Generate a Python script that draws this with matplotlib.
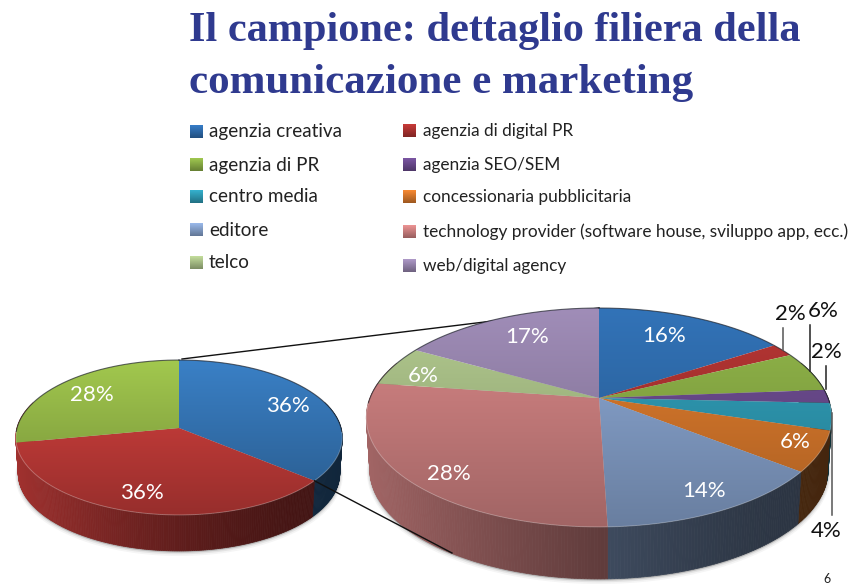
import numpy as np
import matplotlib
matplotlib.use("Agg")
import matplotlib.pyplot as plt
from matplotlib.patches import Polygon

# ---------- data ----------
title_lines = ["Il campione: dettaglio filiera della", "comunicazione e marketing"]
left_values = [36, 36, 28]
left_colors = ["#3A80C6", "#D8423F", "#A2C84E"]
left_labels = ["36%", "36%", "28%"]

categories = ["agenzia creativa", "agenzia di digital PR", "agenzia di PR", "agenzia SEO/SEM",
              "centro media", "concessionaria pubblicitaria", "editore",
              "technology provider (software house, sviluppo app, ecc.)", "telco", "web/digital agency"]
right_values = [16, 2, 6, 2, 4, 6, 14, 28, 6, 17]
right_labels = ["16%", "2%", "6%", "2%", "4%", "6%", "14%", "28%", "6%", "17%"]
right_colors = ["#3273B8", "#B83634", "#93B84A", "#714F96", "#31A3BE", "#E47F2E",
                "#8EABD8", "#DA8888", "#B4CC90", "#A08DB8"]

# ---------- layout (pixels) ----------
W, H = 848, 586
fig = plt.figure(figsize=(W / 100, H / 100), dpi=100, facecolor="white")
ax = fig.add_axes([0, 0, 1, 1])
ax.set_xlim(0, W); ax.set_ylim(H, 0); ax.axis("off")


def rgb(c):
    return np.array(matplotlib.colors.to_rgb(c))


def project(t, g):
    u, v = np.sin(t), np.cos(t)
    d = 1 + g["k"] * v
    return g["cx"] + g["rx"] * u / d, g["cy"] - g["ry"] * v / d


def draw_pie(values, colors, g, z):
    values = np.asarray(values, float)
    edges = np.concatenate([[0], np.cumsum(values) / values.sum()]) * 2 * np.pi
    tt = np.linspace(0, 2 * np.pi, 720)
    xo, yo = project(tt, g)
    top, bot = yo.min(), yo.max()
    left, right = xo.min(), xo.max()
    sc = g["bottom_scale"]
    xb = g["cx"] + (xo - g["cx"]) * sc
    yb = yo + g["depth"]
    # soft shadow round the side wall
    for grow, a in ((3.0, .06), (2.0, .10), (1.0, .16)):
        ax.add_patch(Polygon(np.c_[xb, yb + grow * .7], closed=True, fc="#555555", ec="#555555",
                             lw=grow * 1.4, alpha=a, zorder=z))
    # side wall, as thin shaded strips
    for i, col in enumerate(colors):
        a, b = edges[i], edges[i + 1]
        n = max(2, int((b - a) / 0.012))
        ts = np.linspace(a, b, n + 1)
        # a slice that starts just behind the left silhouette shows no wall of its own
        behind = i > 0 and a > np.pi and np.cos(a) > -0.3
        for t0, t1 in zip(ts[:-1], ts[1:]):
            tm = (t0 + t1) / 2
            if np.cos(tm) > 0.35:
                continue
            x0, y0 = project(t0, g); x1, y1 = project(t1, g)
            xm = (x0 + x1) / 2
            s = np.clip((xm - left) / (right - left), 0, 1)
            f = .30 + .44 * (1 - s) ** 1.6
            wall = colors[i - 1] if behind else col
            c = rgb(wall) * f
            quad = [(x0, y0), (x1, y1),
                    (g["cx"] + (x1 - g["cx"]) * sc, y1 + g["depth"]),
                    (g["cx"] + (x0 - g["cx"]) * sc, y0 + g["depth"])]
            ax.add_patch(Polygon(quad, closed=True, fc=c, ec=c, lw=.5, zorder=z + 1))
    # top faces with a vertical gradient
    ys = np.linspace(0, 1, 128)[:, None]
    for i, col in enumerate(colors):
        ts = np.linspace(edges[i], edges[i + 1], max(3, int((edges[i + 1] - edges[i]) * 90)))
        px, py = project(ts, g)
        verts = np.c_[np.r_[g["cx"], px], np.r_[g["cy"], py]]
        poly = Polygon(verts, closed=True, fc="none", ec="none", transform=ax.transData, zorder=z + 2)
        ax.add_patch(poly)
        base = rgb(col)
        img = (base[None, None, :] * (1 - g["fade"] * ys[:, :, None])).clip(0, 1)
        im = ax.imshow(img, extent=[left, right, bot, top], aspect="auto", zorder=z + 2,
                       interpolation="bilinear")
        im.set_clip_path(poly)
    # dark rim at the back, pale rim at the front
    back = np.cos(tt) > -0.05
    ax.plot(np.where(back, xo, np.nan), np.where(back, yo, np.nan), color="#20242c", lw=.8, alpha=.7,
            zorder=z + 3)
    front = np.cos(tt) < -0.05
    ax.plot(np.where(front, xo, np.nan), np.where(front, yo, np.nan), color="white", lw=.7, alpha=.28,
            zorder=z + 3)
    return edges


LEFT = dict(cx=179, cy=428, rx=162, ry=76.3, k=.1226, depth=36, bottom_scale=.985, fade=.30)
RIGHT = dict(cx=599, cy=398, rx=229, ry=106, k=.178, depth=52, bottom_scale=.985, fade=.26)

# connector lines
lx1, ly1 = project(2 * np.pi * left_values[0] / sum(left_values), LEFT)
ax.plot([182, 599], [359, 308], color="#111111", lw=1.0, zorder=1)
ax.plot([lx1, 452], [ly1, 553], color="#111111", lw=1.0, zorder=30)

draw_pie(left_values, left_colors, LEFT, 5)
redges = draw_pie(right_values, right_colors, RIGHT, 10)

# white data labels
for lab, (x, y) in zip(left_labels, [(288, 406), (142, 493), (92, 395)]):
    ax.text(x, y, lab, color="white", fontsize=16, family="Lato", ha="center", va="center", zorder=40)

right_inside = {0: (664, 336), 5: (795, 442), 6: (704, 491), 7: (449, 474), 8: (423, 376), 9: (527, 337)}
for i, (x, y) in right_inside.items():
    ax.text(x, y, right_labels[i], color="white", fontsize=16, family="Lato", ha="center", va="center", zorder=40)

# outside labels with leader lines
right_outside = {1: ((790, 314), [(783, 350), (783, 328)], "#555555"),
                 2: ((823, 311), [(810, 371), (810, 325)], "#222222"),
                 3: ((826, 352), [(826, 389), (826, 366)], "#222222"),
                 4: ((826, 531), [(832, 413), (832, 515)], "#555555")}
for i, ((x, y), seg, c) in right_outside.items():
    ax.text(x, y, right_labels[i], color="#111111", fontsize=16, family="Lato", ha="center", va="center", zorder=40)
    ax.plot(*zip(*seg), color=c, lw=1.1, zorder=35)

# title
for line, y, size in zip(title_lines, (31, 83), (30.4, 31.0)):
    ax.text(189, y, line, color="#2F3A8F", fontsize=size, family="Liberation Serif", weight="bold",
            ha="left", va="center", zorder=50)

# legend
legend_pos = [(190, 132), (403, 131), (190, 165), (403, 165), (190, 197), (403, 197),
              (190, 230), (403, 232), (190, 263), (403, 266)]
grad = np.linspace(0, 1, 16)[:, None, None]
for i, (name, (x, y)) in enumerate(zip(categories, legend_pos)):
    col = rgb(right_colors[i])
    img = np.clip(col[None, None, :] * (1.08 - .38 * grad), 0, 1)
    ax.imshow(img, extent=[x, x + 13, y + 6.5, y - 6.5], aspect="auto", zorder=50)
    if i % 2 == 0:
        ax.text(x + 19, y, name, color="#222222", fontsize=13.6, family="Lato", ha="left", va="center", zorder=50)
    else:
        ax.text(x + 20, y, name, color="#222222", fontsize=12.4, family="Lato", ha="left", va="center", zorder=50)

# page number at the lower edge
ax.text(827, 579, "6", color="#222222", fontsize=9, family="Lato", ha="center", va="center", zorder=50)

ax.set_xlim(0, W); ax.set_ylim(H, 0)
fig.savefig("out.png", dpi=100, facecolor="white")
